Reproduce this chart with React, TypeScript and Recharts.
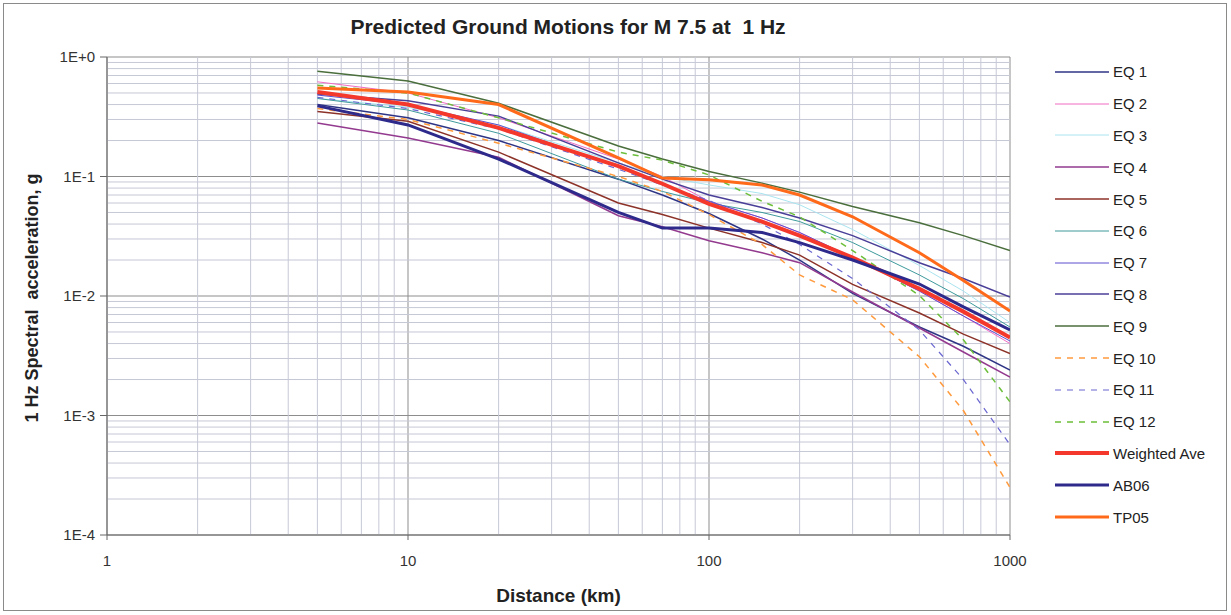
import React from "react";
import { LineChart, Line, XAxis, YAxis, CartesianGrid, ReferenceLine } from "recharts";

const DIST = [5, 10, 20, 50, 70, 100, 150, 200, 300, 500, 700, 1000];

const EQ1 = [0.4, 0.31, 0.2, 0.095, 0.07, 0.049, 0.03, 0.02, 0.0105, 0.0055, 0.0038, 0.0024];
const EQ2 = [0.62, 0.5, 0.31, 0.14, 0.1, 0.062, 0.045, 0.034, 0.021, 0.011, 0.0068, 0.004];
const EQ3 = [0.45, 0.38, 0.27, 0.13, 0.1, 0.085, 0.072, 0.058, 0.036, 0.018, 0.011, 0.006];
const EQ4 = [0.28, 0.21, 0.145, 0.047, 0.038, 0.029, 0.023, 0.019, 0.0108, 0.0054, 0.0034, 0.0021];
const EQ5 = [0.35, 0.29, 0.16, 0.06, 0.048, 0.037, 0.028, 0.022, 0.0125, 0.0072, 0.0048, 0.0033];
const EQ6 = [0.45, 0.36, 0.23, 0.095, 0.075, 0.06, 0.05, 0.042, 0.028, 0.015, 0.0095, 0.0055];
const EQ7 = [0.48, 0.4, 0.27, 0.12, 0.085, 0.062, 0.045, 0.034, 0.021, 0.011, 0.0068, 0.0042];
const EQ8 = [0.49, 0.43, 0.32, 0.13, 0.095, 0.07, 0.055, 0.045, 0.032, 0.019, 0.014, 0.0098];
const EQ9 = [0.76, 0.63, 0.41, 0.18, 0.14, 0.11, 0.088, 0.074, 0.056, 0.041, 0.032, 0.024];
const EQ10 = [0.37, 0.3, 0.19, 0.1, 0.075, 0.048, 0.027, 0.015, 0.0093, 0.0031, 0.0011, 0.00025];
const EQ11 = [0.46, 0.37, 0.25, 0.115, 0.085, 0.063, 0.04, 0.027, 0.014, 0.0052, 0.002, 0.00057];
const EQ12 = [0.58, 0.5, 0.31, 0.16, 0.137, 0.103, 0.062, 0.046, 0.024, 0.0101, 0.0043, 0.0013];
const WEIGHTED = [0.51, 0.4, 0.255, 0.122, 0.087, 0.059, 0.042, 0.032, 0.021, 0.0115, 0.0074, 0.0045];
const AB06 = [0.39, 0.27, 0.14, 0.05, 0.037, 0.037, 0.034, 0.028, 0.02, 0.0126, 0.0081, 0.0052];
const TP05 = [0.55, 0.51, 0.4, 0.143, 0.097, 0.094, 0.085, 0.07, 0.046, 0.023, 0.0135, 0.0075];

const X_TICKS = [1, 10, 100, 1000];
const Y_TICKS = [0.0001, 0.001, 0.01, 0.1, 1];

const SERIES = [
  { key: "eq1", name: "EQ 1", values: EQ1, color: "#2f3585", width: 1.5, dash: undefined },
  { key: "eq2", name: "EQ 2", values: EQ2, color: "#f26bc4", width: 1, dash: undefined },
  { key: "eq3", name: "EQ 3", values: EQ3, color: "#a9e4ef", width: 1, dash: undefined },
  { key: "eq4", name: "EQ 4", values: EQ4, color: "#933a8f", width: 1.5, dash: undefined },
  { key: "eq5", name: "EQ 5", values: EQ5, color: "#8c3228", width: 1.5, dash: undefined },
  { key: "eq6", name: "EQ 6", values: EQ6, color: "#3e9a9c", width: 1, dash: undefined },
  { key: "eq7", name: "EQ 7", values: EQ7, color: "#5b4fd0", width: 1, dash: undefined },
  { key: "eq8", name: "EQ 8", values: EQ8, color: "#4a3f98", width: 1.5, dash: undefined },
  { key: "eq9", name: "EQ 9", values: EQ9, color: "#4a6e3c", width: 1.5, dash: undefined },
  { key: "eq10", name: "EQ 10", values: EQ10, color: "#ff9a3c", width: 1.5, dash: "6 6" },
  { key: "eq11", name: "EQ 11", values: EQ11, color: "#6a66d0", width: 1.2, dash: "6 6" },
  { key: "eq12", name: "EQ 12", values: EQ12, color: "#6cbf3a", width: 1.5, dash: "6 6" },
  { key: "wave", name: "Weighted Ave", values: WEIGHTED, color: "#f4392c", width: 4, dash: undefined },
  { key: "ab06", name: "AB06", values: AB06, color: "#2d2a8c", width: 3, dash: undefined },
  { key: "tp05", name: "TP05", values: TP05, color: "#ff6a1a", width: 3, dash: undefined },
];

const data = DIST.map((d, i) => {
  const row: Record<string, number> = { dist: d };
  SERIES.forEach((s) => {
    row[s.key] = s.values[i];
  });
  return row;
});

const minorX: number[] = [];
[1, 10, 100].forEach((dec) => {
  for (let m = 2; m <= 9; m++) minorX.push(dec * m);
});
const minorY: number[] = [];
[0.0001, 0.001, 0.01, 0.1].forEach((dec) => {
  for (let m = 2; m <= 9; m++) minorY.push(dec * m);
});

const FONT = "Arial, 'Liberation Sans', sans-serif";

const fmtY = (v: number) => {
  const e = Math.round(Math.log10(v));
  return `1E${e >= 0 ? "+" : ""}${e}`;
};

export default function App() {
  return (
    <div
      style={{
        position: "absolute",
        left: 0,
        top: 0,
        width: 1231,
        height: 615,
        background: "#fff",
        fontFamily: FONT,
      }}
    >
      <div
        style={{
          position: "absolute",
          left: 3,
          top: 3,
          width: 1222,
          height: 606,
          border: "1px solid #8a8a8a",
        }}
      />
      <div
        style={{
          position: "absolute",
          left: 0,
          top: 15,
          width: 1136,
          textAlign: "center",
          fontWeight: "bold",
          fontSize: 21,
          color: "#222",
        }}
      >
        Predicted Ground Motions for M 7.5 at&nbsp; 1 Hz
      </div>
      <LineChart
        width={1231}
        height={615}
        data={data}
        margin={{ top: 57, right: 221, bottom: 0, left: 0 }}
        style={{ position: "absolute", left: 0, top: 0 }}
      >
        {minorX.map((x) => (
          <ReferenceLine key={`mx${x}`} x={x} stroke="#c6c8d6" strokeWidth={1} />
        ))}
        {minorY.map((y) => (
          <ReferenceLine key={`my${y}`} y={y} stroke="#c6c8d6" strokeWidth={1} />
        ))}
        <CartesianGrid stroke="#8d8d8d" strokeWidth={1} />
        <XAxis
          dataKey="dist"
          type="number"
          scale="log"
          domain={[1, 1000]}
          ticks={X_TICKS}
          allowDataOverflow
          height={80}
          tickSize={5}
          tickMargin={15}
          stroke="#666"
          tick={{ fontSize: 15, fill: "#333", fontFamily: FONT }}
          label={{
            value: "Distance (km)",
            position: "insideBottom",
            offset: 13,
            style: { fontSize: 19, fontWeight: "bold", fill: "#222", fontFamily: FONT },
          }}
        />
        <YAxis
          type="number"
          scale="log"
          domain={[0.0001, 1]}
          ticks={Y_TICKS}
          allowDataOverflow
          width={107}
          tickSize={7}
          tickMargin={5}
          stroke="#666"
          tickFormatter={fmtY}
          tick={{ fontSize: 15, fill: "#333", fontFamily: FONT }}
          label={{
            content: () => (
              <text
                x={33}
                y={298}
                transform="rotate(-90 33 298)"
                textAnchor="middle"
                dominantBaseline="middle"
                style={{ fontSize: 18, fontWeight: "bold", fill: "#222", fontFamily: FONT }}
              >
                1 Hz Spectral&nbsp; acceleration, g
              </text>
            ),
          }}
        />
        {SERIES.map((s) => (
          <Line
            key={s.key}
            type="linear"
            dataKey={s.key}
            name={s.name}
            stroke={s.color}
            strokeWidth={s.width}
            strokeDasharray={s.dash}
            dot={false}
            isAnimationActive={false}
          />
        ))}
      </LineChart>
      <div style={{ position: "absolute", left: 1055, top: 56 }}>
        {SERIES.map((s) => (
          <div
            key={s.key}
            style={{ display: "flex", alignItems: "center", height: 31.8, fontSize: 15, color: "#222" }}
          >
            <svg width={54} height={10} style={{ marginRight: 4 }}>
              <line
                x1={0}
                y1={5}
                x2={54}
                y2={5}
                stroke={s.color}
                strokeWidth={s.width}
                strokeDasharray={s.dash}
              />
            </svg>
            <span>{s.name}</span>
          </div>
        ))}
      </div>
    </div>
  );
}
